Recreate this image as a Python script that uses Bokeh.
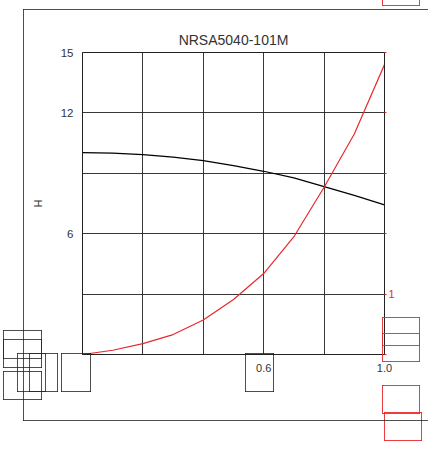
from bokeh.plotting import figure
from bokeh.models import Range1d, LinearAxis, FixedTicker, InlineStyleSheet
from bokeh.embed import file_html
from bokeh.resources import INLINE

# data
current = [0.0, 0.1, 0.2, 0.3, 0.4, 0.5, 0.6, 0.7, 0.8, 0.9, 1.0]
inductance = [10.03, 10.0, 9.93, 9.8, 9.63, 9.38, 9.1, 8.77, 8.34, 7.9, 7.43]
temp_rise = [0.0, 0.07, 0.18, 0.33, 0.57, 0.91, 1.34, 1.95, 2.77, 3.65, 4.8]

x_ticks = [0.0, 0.2, 0.4, 0.6, 0.8, 1.0]
x_labels = {0.0: "", 0.2: "", 0.4: "", 0.6: "0.6", 0.8: "", 1.0: "1.0"}
y_ticks = [0, 3, 6, 9, 12, 15]
y_labels = {0: "", 3: "", 6: "6", 9: "", 12: "12", 15: "15"}
r_ticks = [0, 1, 2, 3, 4, 5]
r_labels = {0: "", 1: "1", 2: "", 3: "", 4: "", 5: ""}

FONT = "Liberation Sans"
RED = "#e8282c"

p = figure(width=428, height=446, x_range=Range1d(0, 1), y_range=Range1d(0, 15),
           output_backend="svg", toolbar_location=None, title="NRSA5040-101M",
           min_border_left=82, min_border_top=52, min_border_right=44, min_border_bottom=92)
p.extra_y_ranges = {"right": Range1d(0, 5)}

p.title.align = "center"
p.title.text_font = FONT
p.title.text_font_size = "14px"
p.title.text_font_style = "normal"
p.title.text_color = "#333333"

p.outline_line_color = "#222222"
p.background_fill_color = "white"
p.border_fill_color = "white"

p.xaxis.ticker = FixedTicker(ticks=x_ticks)
p.xaxis.major_label_overrides = x_labels
p.yaxis.ticker = FixedTicker(ticks=y_ticks)
p.yaxis.major_label_overrides = y_labels
for ax in (p.xaxis[0], p.yaxis[0]):
    ax.major_tick_out = 0
    ax.major_tick_in = 0
    ax.minor_tick_out = 0
    ax.minor_tick_in = 0
    ax.axis_line_color = "#222222"
    ax.major_label_text_font = FONT
    ax.major_label_text_font_size = "11px"
    ax.major_label_text_color = "#333333"
p.yaxis.major_label_text_font_size = "11.5px"
p.xaxis.major_label_standoff = 9
p.yaxis.major_label_standoff = 9
p.yaxis.axis_label = "H"
p.yaxis.axis_label_text_font = FONT
p.yaxis.axis_label_text_font_size = "11px"
p.yaxis.axis_label_text_font_style = "normal"
p.yaxis.axis_label_text_color = "#333333"
p.yaxis.axis_label_standoff = 14

raxis = LinearAxis(y_range_name="right", ticker=FixedTicker(ticks=r_ticks),
                   major_label_overrides=r_labels)
raxis.major_tick_out = 2
raxis.major_tick_in = 0
raxis.minor_tick_out = 0
raxis.minor_tick_in = 0
raxis.major_tick_line_color = RED
raxis.axis_line_color = "#222222"
raxis.major_label_text_color = RED
raxis.major_label_text_font = FONT
raxis.major_label_text_font_size = "11px"
raxis.major_label_standoff = 2
p.add_layout(raxis, "right")

p.xgrid.ticker = FixedTicker(ticks=x_ticks)
p.ygrid.ticker = FixedTicker(ticks=y_ticks)
p.grid.grid_line_color = "#222222"
p.grid.grid_line_alpha = 0.9

p.line(current, inductance, line_color="black", line_width=1.2)
p.line(current, temp_rise, y_range_name="right", line_color=RED, line_width=1.2)

# decorative empty outline boxes around the chart (canvas px: left, top, right, bottom)
BLACK_RGBA = "rgba(34,34,34,0.8)"
RED_RGBA = "rgba(232,40,44,0.9)"
black_boxes = [(3, 330, 41, 358), (3, 339, 41, 367), (3, 371, 41, 399), (17, 353, 45, 391),
               (29, 353, 57, 391), (61, 353, 90, 391), (245, 353, 273, 391)]
red_boxes = [(382, -20, 419, 5), (382, 317, 419, 345), (382, 333, 419, 361),
             (382, 385, 419, 413), (384, 412, 421, 440)]

layers = []  # (color, x, y, w, h)
# outer sheet border: left, top and bottom edges (right edge is off-page)
layers += [(BLACK_RGBA, 23, 9, 406, 1), (BLACK_RGBA, 23, 9, 1, 412), (BLACK_RGBA, 23, 420, 406, 1)]
for boxes, col in ((black_boxes, BLACK_RGBA), (red_boxes, RED_RGBA)):
    for l, t, r, b in boxes:
        layers += [(col, l, t, r - l + 1, 1), (col, l, b, r - l + 1, 1),
                   (col, l, t, 1, b - t + 1), (col, r, t, 1, b - t + 1)]

imgs = ", ".join(f"linear-gradient({c},{c})" for c, *_ in layers)
sizes = ", ".join(f"{w}px {h}px" for _, _, _, w, h in layers)
poss = ", ".join(f"{x}px {y}px" for _, x, y, _, _ in layers)
css = (":host::after { content: ''; position: absolute; left: 0; top: 0; "
       "width: 428px; height: 446px; pointer-events: none; z-index: 10; "
       f"background-repeat: no-repeat; background-image: {imgs}; "
       f"background-size: {sizes}; background-position: {poss}; }}")
p.stylesheets = [InlineStyleSheet(css=css)]

open("out.html", "w").write(file_html(p, INLINE))
